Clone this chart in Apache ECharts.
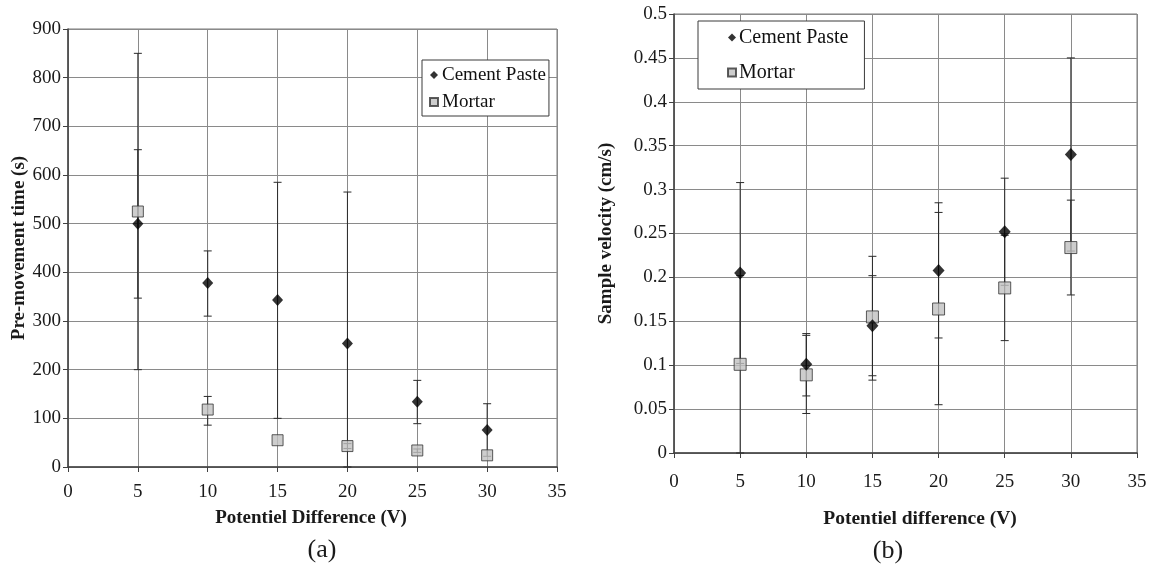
<!DOCTYPE html>
<html>
<head>
<meta charset="utf-8">
<title>Pre-movement time and sample velocity</title>
<script src="https://cdn.jsdelivr.net/npm/echarts@6/dist/echarts.min.js"></script>
<style>
  html, body { margin: 0; padding: 0; background: #ffffff; }
  #chart { width: 1153px; height: 575px; }
</style>
</head>
<body>
<div id="chart"></div>
<script>
// Applied potential difference (V)
const voltage = [5, 10, 15, 20, 25, 30];

// (a) Pre-movement time (s): mean with lower / upper bounds of the error bars
const pasteTime      = [500, 378, 343, 254, 134, 76];
const pasteTimeLow   = [200, 310, 100, 0, 89, 22];
const pasteTimeHigh  = [850, 444, 585, 565, 178, 130];
const mortarTime     = [525, 118, 55, 43, 34, 24];
const mortarTimeLow  = [347, 86, null, 38, 30, null];
const mortarTimeHigh = [652, 145, null, 48, 37, null];

// (b) Sample velocity (cm/s): mean with lower / upper bounds of the error bars
const pasteVel      = [0.205, 0.101, 0.145, 0.208, 0.252, 0.340];
const pasteVelLow   = [0.102, 0.065, 0.088, 0.131, 0.191, 0.230];
const pasteVelHigh  = [0.308, 0.136, 0.202, 0.285, 0.313, 0.450];
const mortarVel     = [0.101, 0.089, 0.155, 0.164, 0.188, 0.234];
const mortarVelLow  = [0.000, 0.045, 0.083, 0.055, 0.128, 0.180];
const mortarVelHigh = [0.202, 0.134, 0.224, 0.274, 0.248, 0.288];

// Axis scales
const xScale = { min: 0, max: 35, interval: 5 };
const timeScale = { min: 0, max: 900, interval: 100 };
const velScale = { min: 0, max: 0.5, interval: 0.05 };

const FONT = "'Liberation Serif', 'Times New Roman', serif";
const INK = '#1a1a1a';

function points(xs, ys) {
  return xs.map((x, i) => [x, ys[i]]);
}
function ranges(xs, lo, hi) {
  const out = [];
  xs.forEach((x, i) => {
    if (lo[i] !== null && hi[i] !== null) out.push([x, lo[i], hi[i]]);
  });
  return out;
}

// Vertical error bar with caps at both ends
function errorBar(params, api) {
  const x = api.value(0);
  const top = api.coord([x, api.value(2)]);
  const bot = api.coord([x, api.value(1)]);
  const w = 4;
  const style = { stroke: '#2a2a2a', lineWidth: 1 };
  return {
    type: 'group',
    children: [
      { type: 'line', shape: { x1: top[0], y1: top[1], x2: bot[0], y2: bot[1] }, style },
      { type: 'line', shape: { x1: top[0] - w, y1: top[1], x2: top[0] + w, y2: top[1] }, style },
      { type: 'line', shape: { x1: bot[0] - w, y1: bot[1], x2: bot[0] + w, y2: bot[1] }, style }
    ]
  };
}

function xAxisFor(gridIndex, labelMargin) {
  return {
    type: 'value', gridIndex, ...xScale,
    axisLine: { show: true, onZero: false, lineStyle: { color: '#404040', width: 1.5 } },
    axisTick: { show: true, inside: false, length: 5, lineStyle: { color: '#404040' } },
    axisLabel: { color: INK, fontFamily: FONT, fontSize: 19, margin: labelMargin },
    splitLine: { show: true, lineStyle: { color: '#8a8a8a', width: 1 } }
  };
}
function yAxisFor(gridIndex, scale, name, gap) {
  return {
    type: 'value', gridIndex, ...scale,
    name, nameLocation: 'middle', nameRotate: 90, nameGap: gap,
    nameTextStyle: { color: INK, fontFamily: FONT, fontSize: 19, fontWeight: 'bold' },
    axisLine: { show: true, onZero: false, lineStyle: { color: '#404040', width: 1.5 } },
    axisTick: { show: true, inside: false, length: 5, lineStyle: { color: '#404040' } },
    axisLabel: { color: INK, fontFamily: FONT, fontSize: 19, margin: 7 },
    splitLine: { show: true, lineStyle: { color: '#8a8a8a', width: 1 } }
  };
}

const pasteStyle = { color: '#000000' };
const mortarStyle = { color: '#c0c0c0', borderColor: '#333333', borderWidth: 1 };

const legendItems = [{ name: 'Cement Paste', icon: 'diamond' }, { name: 'Mortar', icon: 'rect' }];

function titleText(text, x, y, font) {
  return {
    type: 'text', x, y,
    style: { text, font, fill: INK, textAlign: 'center', textVerticalAlign: 'middle' }
  };
}

const chart = echarts.init(document.getElementById('chart'), null, { renderer: 'canvas' });

chart.setOption({
  animation: false,
  backgroundColor: '#ffffff',
  grid: [
    { left: 68, top: 29, width: 489, height: 438, show: true, borderColor: '#7a7a7a', borderWidth: 1 },
    { left: 674, top: 14, width: 463, height: 439, show: true, borderColor: '#7a7a7a', borderWidth: 1 }
  ],
  xAxis: [xAxisFor(0, 16), xAxisFor(1, 20)],
  yAxis: [
    yAxisFor(0, timeScale, 'Pre-movement time (s)', 39),
    yAxisFor(1, velScale, 'Sample velocity (cm/s)', 58)
  ],
  legend: [
    {
      data: legendItems,
      orient: 'vertical', left: 422, top: 60,
      itemWidth: 8, itemHeight: 8, itemGap: 3,
      padding: [3, 3, 2, 7],
      borderColor: '#3a3a3a', borderWidth: 1, backgroundColor: '#ffffff',
      textStyle: { color: '#111111', fontFamily: FONT, fontSize: 19, lineHeight: 16, padding: [8, 0, 0, -1] },
      selectedMode: false
    },
    {
      data: legendItems,
      orient: 'vertical', left: 698, top: 21,
      itemWidth: 8, itemHeight: 8, itemGap: 12,
      padding: [5, 16, 5, 29],
      borderColor: '#3a3a3a', borderWidth: 1, backgroundColor: '#ffffff',
      textStyle: { color: '#111111', fontFamily: FONT, fontSize: 20, lineHeight: 16, padding: [7, 0, 0, -2] },
      selectedMode: false
    }
  ],
  graphic: [
    titleText('Potentiel Difference (V)', 311, 518, 'bold 19px ' + FONT),
    titleText('(a)', 322, 550, '26px ' + FONT),
    titleText('Potentiel difference (V)', 920, 519, 'bold 19.5px ' + FONT),
    titleText('(b)', 888, 551, '26px ' + FONT)
  ],
  series: [
    // (a) error bars
    { type: 'custom', name: 'Cement Paste range a', xAxisIndex: 0, yAxisIndex: 0, renderItem: errorBar,
      encode: { x: 0, y: [1, 2] }, data: ranges(voltage, pasteTimeLow, pasteTimeHigh), z: 2, silent: true },
    { type: 'custom', name: 'Mortar range a', xAxisIndex: 0, yAxisIndex: 0, renderItem: errorBar,
      encode: { x: 0, y: [1, 2] }, data: ranges(voltage, mortarTimeLow, mortarTimeHigh), z: 2, silent: true },
    // (a) points
    { type: 'scatter', name: 'Cement Paste', xAxisIndex: 0, yAxisIndex: 0, symbol: 'diamond', symbolSize: [11, 12],
      itemStyle: pasteStyle, data: points(voltage, pasteTime), z: 4 },
    { type: 'scatter', name: 'Mortar', xAxisIndex: 0, yAxisIndex: 0, symbol: 'rect', symbolSize: 11,
      itemStyle: mortarStyle, data: points(voltage, mortarTime), z: 3 },
    // (b) error bars
    { type: 'custom', name: 'Cement Paste range b', xAxisIndex: 1, yAxisIndex: 1, renderItem: errorBar,
      encode: { x: 0, y: [1, 2] }, data: ranges(voltage, pasteVelLow, pasteVelHigh), z: 2, silent: true },
    { type: 'custom', name: 'Mortar range b', xAxisIndex: 1, yAxisIndex: 1, renderItem: errorBar,
      encode: { x: 0, y: [1, 2] }, data: ranges(voltage, mortarVelLow, mortarVelHigh), z: 2, silent: true },
    // (b) points
    { type: 'scatter', name: 'Cement Paste', xAxisIndex: 1, yAxisIndex: 1, symbol: 'diamond', symbolSize: [12, 13],
      itemStyle: pasteStyle, data: points(voltage, pasteVel), z: 4 },
    { type: 'scatter', name: 'Mortar', xAxisIndex: 1, yAxisIndex: 1, symbol: 'rect', symbolSize: 12,
      itemStyle: mortarStyle, data: points(voltage, mortarVel), z: 3 }
  ]
});
</script>
</body>
</html>
